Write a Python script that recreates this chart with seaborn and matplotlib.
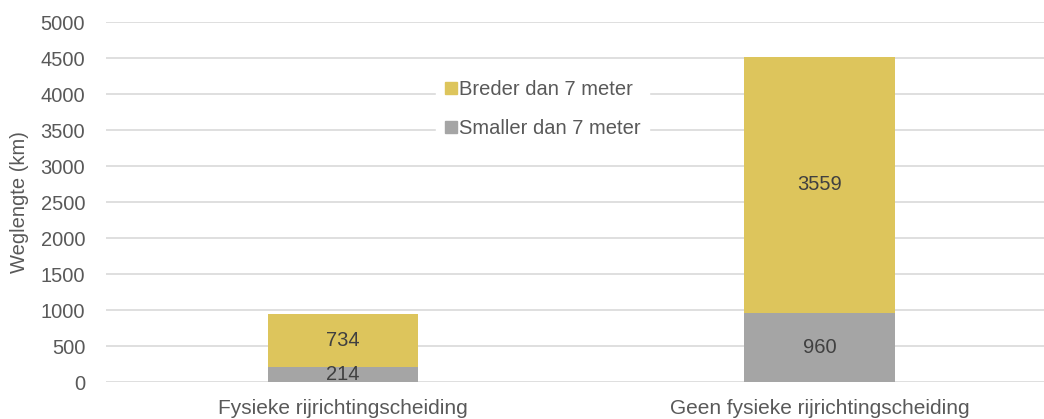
import numpy as np
import pandas as pd
import matplotlib
matplotlib.use("Agg")
import matplotlib.pyplot as plt
import seaborn as sns
from matplotlib.lines import Line2D

categories = ["Fysieke rijrichtingscheiding", "Geen fysieke rijrichtingscheiding"]
smaller = [214, 960]
breder = [734, 3559]
yticks = [0, 500, 1000, 1500, 2000, 2500, 3000, 3500, 4000, 4500, 5000]

geel = "#DDC55C"
grijs = "#A5A5A5"
tekst = "#595959"

sns.set_style("white")
plt.rcParams["font.family"] = ["Liberation Sans", "DejaVu Sans"]

df = pd.DataFrame({"cat": categories, "smaller": smaller, "breder": breder})
df["totaal"] = df["smaller"] + df["breder"]

fig = plt.figure(figsize=(10.44, 4.19), dpi=100)
ax = fig.add_axes([106 / 1044, 37 / 419, (1044 - 106) / 1044, 360 / 419])

sns.barplot(data=df, x="cat", y="totaal", color=geel, width=0.315,
            saturation=1, linewidth=0, ax=ax, zorder=2)
sns.barplot(data=df, x="cat", y="smaller", color=grijs, width=0.315,
            saturation=1, linewidth=0, ax=ax, zorder=3)

for i, row in df.iterrows():
    ax.text(i, row["smaller"] + row["breder"] / 2, str(row["breder"]),
            ha="center", va="center", fontsize=14.5, color="#404040", zorder=4)
    ax.text(i, row["smaller"] / 2, str(row["smaller"]),
            ha="center", va="center", fontsize=14.5, color="#404040", zorder=4)

ax.set_ylim(0, 5000)
ax.set_xlim(-0.497, 1.471)
ax.set_yticks(yticks)
ax.yaxis.grid(True, color="#D9D9D9", linewidth=1.2, zorder=0)
ax.set_axisbelow(True)
for s in ax.spines.values():
    s.set_visible(False)
ax.tick_params(axis="both", length=0, labelcolor=tekst)
ax.tick_params(axis="x", labelsize=15, pad=12)
ax.tick_params(axis="y", labelsize=14.5, pad=15)
ax.set_xlabel("")
ax.set_ylabel("Weglengte (km)", fontsize=14.5, color=tekst)
ax.yaxis.set_label_coords(-0.082, 0.5)

handles = [
    Line2D([0], [0], marker="s", linestyle="", color=geel, markersize=8),
    Line2D([0], [0], marker="s", linestyle="", color=grijs, markersize=8),
]
leg = ax.legend(handles, ["Breder dan 7 meter", "Smaller dan 7 meter"],
                loc="center", bbox_to_anchor=(0.465, 0.758), frameon=True,
                fancybox=False, fontsize=14.5, labelcolor=tekst,
                handletextpad=0.05, handlelength=0.7, labelspacing=1.0,
                borderpad=0.4)
leg.get_frame().set_facecolor("white")
leg.get_frame().set_edgecolor("white")
leg.get_frame().set_alpha(1)
leg.set_zorder(5)

fig.savefig("out.png", dpi=100)
